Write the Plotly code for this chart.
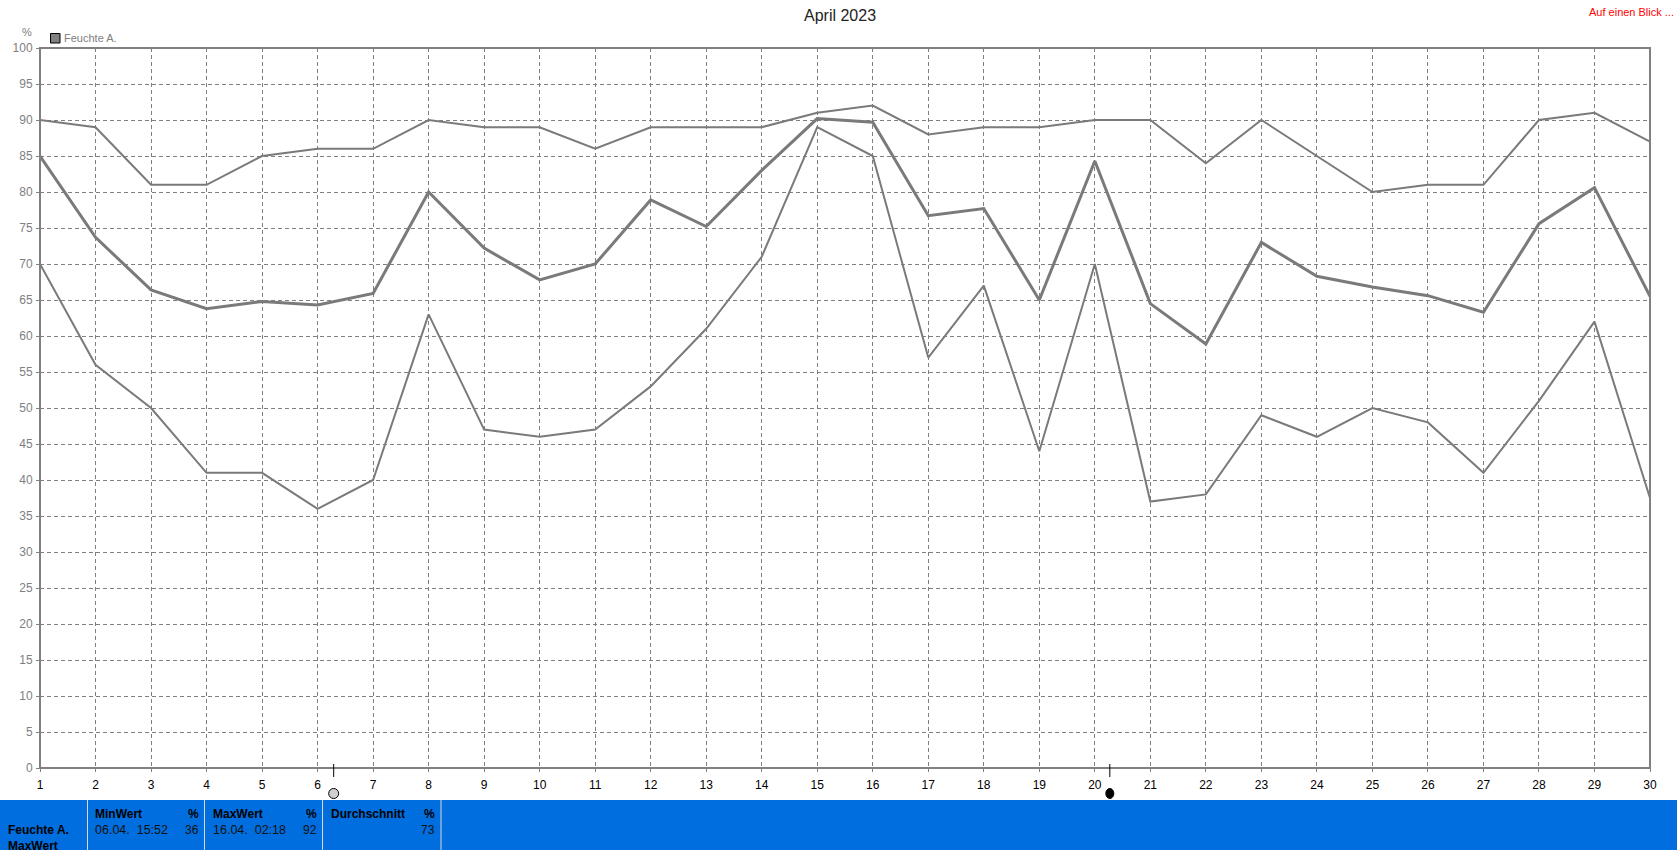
import plotly.graph_objects as go

days = list(range(1, 31))
max_values = [90,89,81,81,85,86,86,90,89,89,86,89,89,89,91,92,88,89,89,90,90,84,90,85,80,81,81,90,91,87]
avg_values = [85,73.7,66.4,63.8,64.8,64.3,65.9,80,72.2,67.8,70,78.9,75.2,83,90.2,89.7,76.7,77.7,65,84.3,64.5,58.9,73,68.3,66.8,65.6,63.3,75.6,80.6,65.5]
min_values = [70,56,50,41,41,36,40,63,47,46,47,53,61,71,89,85,57,67,44,70,37,38,49,46,50,48,41,51,62,37.5]
y_ticks = list(range(0, 101, 5))
full_moon_day = 6.29
new_moon_day = 20.27
title = "April 2023"
series_name = "Feuchte A."

W, H = 1677, 850
L, R, T, B = 40, 1650, 48, 768
GRAY = "#808080"
LINE = "#7A7A7A"
BLUE = "#006EDE"
FONT = "Liberation Sans"

def px(v): return (v - L) / (R - L)
def py(v): return (B - v) / (B - T)

fig = go.Figure()
for vals, w, nm in [(max_values, 2, "Max"), (avg_values, 3, "Mittel"), (min_values, 2, "Min")]:
    fig.add_trace(go.Scatter(x=days, y=vals, mode="lines", name=nm, line=dict(color=LINE, width=w), cliponaxis=True))

shapes = []
# plot frame
shapes.append(dict(type="rect", xref="paper", yref="paper", x0=0, x1=1, y0=0, y1=1,
                   line=dict(color=GRAY, width=2)))
for d in (full_moon_day, new_moon_day):
    shapes.append(dict(type="line", xref="x", yref="paper", x0=d, x1=d, y0=py(764), y1=py(777),
                       line=dict(color="black", width=1)))
# moon phase symbols
shapes.append(dict(type="circle", xref="x", yref="paper", xsizemode="pixel", ysizemode="pixel",
                   xanchor=full_moon_day, yanchor=py(793.5), x0=-5, x1=5, y0=-5, y1=5,
                   fillcolor="#D0D0D0", line=dict(color="black", width=1)))
shapes.append(dict(type="circle", xref="x", yref="paper", xsizemode="pixel", ysizemode="pixel",
                   xanchor=new_moon_day, yanchor=py(793.5), x0=-4, x1=4, y0=-5, y1=5,
                   fillcolor="black", line=dict(color="black", width=1)))
# footer
shapes.append(dict(type="rect", xref="paper", yref="paper", x0=px(0), x1=px(W), y0=py(H), y1=py(800), line_width=0, fillcolor=BLUE))
for xp in (87.5, 204.5, 322.5, 441):
    shapes.append(dict(type="line", xref="paper", yref="paper", x0=px(xp), x1=px(xp), y0=py(H), y1=py(800),
                       line=dict(color="#D8D8D8", width=1)))
# legend swatch
shapes.append(dict(type="rect", xref="paper", yref="paper", x0=px(50.5), x1=px(60), y0=py(43), y1=py(33.5),
                   fillcolor=GRAY, line=dict(color="black", width=1)))

def note(x, y, text, size=11, color="black", anchor="left", bold=False):
    return dict(xref="paper", yref="paper", x=px(x), y=py(y), text=f"<b>{text}</b>" if bold else text, showarrow=False,
                xanchor=anchor, yanchor="middle", font=dict(family=FONT, size=size, color=color), align=anchor,
                xshift=0, borderpad=0, borderwidth=0)

annotations = [
    note(840, 16, title, 16, "#222222", "center"),
    note(1674, 12, "Auf einen Blick ...", 11, "#FF0000", "right"),
    note(26.5, 32, "%", 11, GRAY, "center"),
    note(64, 38, series_name, 11, GRAY),
    note(8, 830, series_name, 12, "black", bold=True),
    note(8, 846, "MaxWert", 12, "black", bold=True),
    note(95, 814, "MinWert", 12, "black", bold=True),
    note(199, 814, "%", 12, "black", "right", True),
    note(95, 830, "06.04.  15:52", 12.5, "#111111"),
    note(199, 830, "36", 12, "#111111", "right"),
    note(213, 814, "MaxWert", 12, "black", bold=True),
    note(317, 814, "%", 12, "black", "right", True),
    note(213, 830, "16.04.  02:18", 12.5, "#111111"),
    note(317, 830, "92", 12, "#111111", "right"),
    note(331, 814, "Durchschnitt", 12, "black", bold=True),
    note(435, 814, "%", 12, "black", "right", True),
    note(435, 830, "73", 12, "#111111", "right"),
]

fig.update_layout(
    width=W, height=H, margin=dict(l=L, r=W - R, t=T, b=H - B, pad=0, autoexpand=False),
    paper_bgcolor="white", plot_bgcolor="white", showlegend=False,
    font=dict(family=FONT, size=12),
    shapes=shapes, annotations=annotations,
    xaxis=dict(range=[1, 30], tickmode="array", tickvals=days, ticktext=[str(d) for d in days],
               showgrid=True, gridcolor=GRAY, griddash="4px,3px", gridwidth=1, zeroline=False,
               showline=False,
               ticks="outside", ticklen=3, tickcolor=GRAY, ticklabelstandoff=3,
               tickfont=dict(family=FONT, size=12, color="black"), fixedrange=True),
    yaxis=dict(range=[0, 100], tickmode="array", tickvals=y_ticks, ticktext=[str(v) for v in y_ticks],
               showgrid=True, gridcolor=GRAY, griddash="4px,3px", gridwidth=1, zeroline=False,
               showline=False,
               ticks="outside", ticklen=3, tickcolor=GRAY, ticklabelstandoff=1,
               tickfont=dict(family=FONT, size=12, color=GRAY), fixedrange=True),
)
fig.write_html("out.html", config=dict(displayModeBar=False),
               post_script="document.body.style.margin='0';document.body.style.overflow='hidden';")
